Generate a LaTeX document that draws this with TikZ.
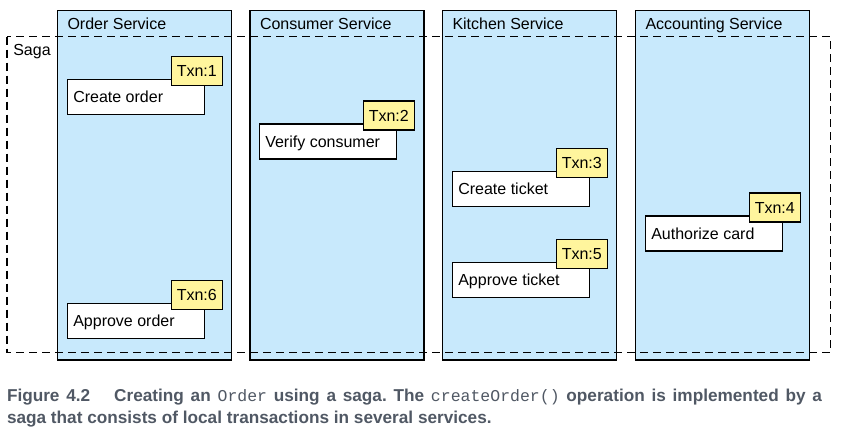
\documentclass[tikz,border=0pt]{standalone}
\usepackage{fontspec}
\setmainfont{Liberation Sans}
\newfontfamily\capmono{Liberation Mono}
\definecolor{colblue}{RGB}{200,233,252}
\definecolor{txnyellow}{RGB}{255,245,157}
\definecolor{capgray}{RGB}{80,88,100}
\frenchspacing
\begin{document}
\begin{tikzpicture}[x=1pt,y=-1pt,
  every node/.style={inner sep=0pt, outer sep=0pt},
  column/.style={draw=black, line width=1.3pt, fill=colblue, anchor=north west,
    minimum width=174pt, minimum height=349.5pt},
  coltitle/.style={anchor=base west, font=\fontsize{16}{19}\selectfont},
  taskbox/.style={draw=black, line width=1.2pt, fill=white, anchor=north west,
    minimum width=137pt, minimum height=35pt},
  tasktext/.style={anchor=base west, font=\fontsize{16}{19}\selectfont},
  txnbox/.style={draw=black, line width=1.2pt, fill=txnyellow, anchor=north west,
    minimum width=51pt, minimum height=29pt, font=\fontsize{16}{19}\selectfont},
  sagaline/.style={draw=black, line width=1.3pt, dash pattern=on 8pt off 5pt},
  captext/.style={anchor=base west, text=capgray, font=\fontsize{17.2}{20}\selectfont\bfseries}
]
\useasboundingbox (0,0) rectangle (841,432);

% columns
\node[column] (colorder) at (57.5,10.5) {};
\node[column] (colconsumer) at (250,10.5) {};
\node[column] (colkitchen) at (442.5,10.5) {};
\node[column] (colaccount) at (635.5,10.5) {};

\node[coltitle] (torder) at (67.5,29) {Order Service};
\node[coltitle] (tconsumer) at (260,29) {Consumer Service};
\node[coltitle] (tkitchen) at (452.5,29) {Kitchen Service};
\node[coltitle] (taccount) at (645.5,29) {Accounting Service};

% saga boundary
\coordinate (sagaNW) at (7,36.5);
\coordinate (sagaSE) at (830.5,352.3);
\draw[sagaline] (sagaNW) rectangle (sagaSE);
\node[coltitle] (sagalabel) at (13.3,55.5) {Saga};

% tasks
\foreach \name/\x/\y/\txt/\num in {
  createorder/67.3/79.3/Create order/1,
  verifyconsumer/259.3/124/Verify consumer/2,
  createticket/452.3/171.3/Create ticket/3,
  authorizecard/645.3/216/Authorize card/4,
  approveticket/452.3/262.3/Approve ticket/5,
  approveorder/67.3/303.3/Approve order/6}{
  \node[taskbox] (\name) at (\x,\y) {};
  \node[tasktext] (\name-text) at ([xshift=6pt,yshift=-5.6pt]\name.west) {\txt};
  \node[txnbox] (\name-txn) at ([xshift=-33pt,yshift=23pt]\name.north east) {Txn:\num};
}

% caption
\node[captext] (cap1) at (7,401) {\makebox[815pt][s]{Figure 4.2\hspace{1em} Creating an {\capmono\mdseries\fontsize{16.5}{18}\selectfont Order} using a saga. The {\capmono\mdseries\fontsize{16.5}{18}\selectfont createOrder()} operation is implemented by a}};
\node[captext] (cap2) at (7,423) {saga that consists of local transactions in several services.};
\end{tikzpicture}
\end{document}
